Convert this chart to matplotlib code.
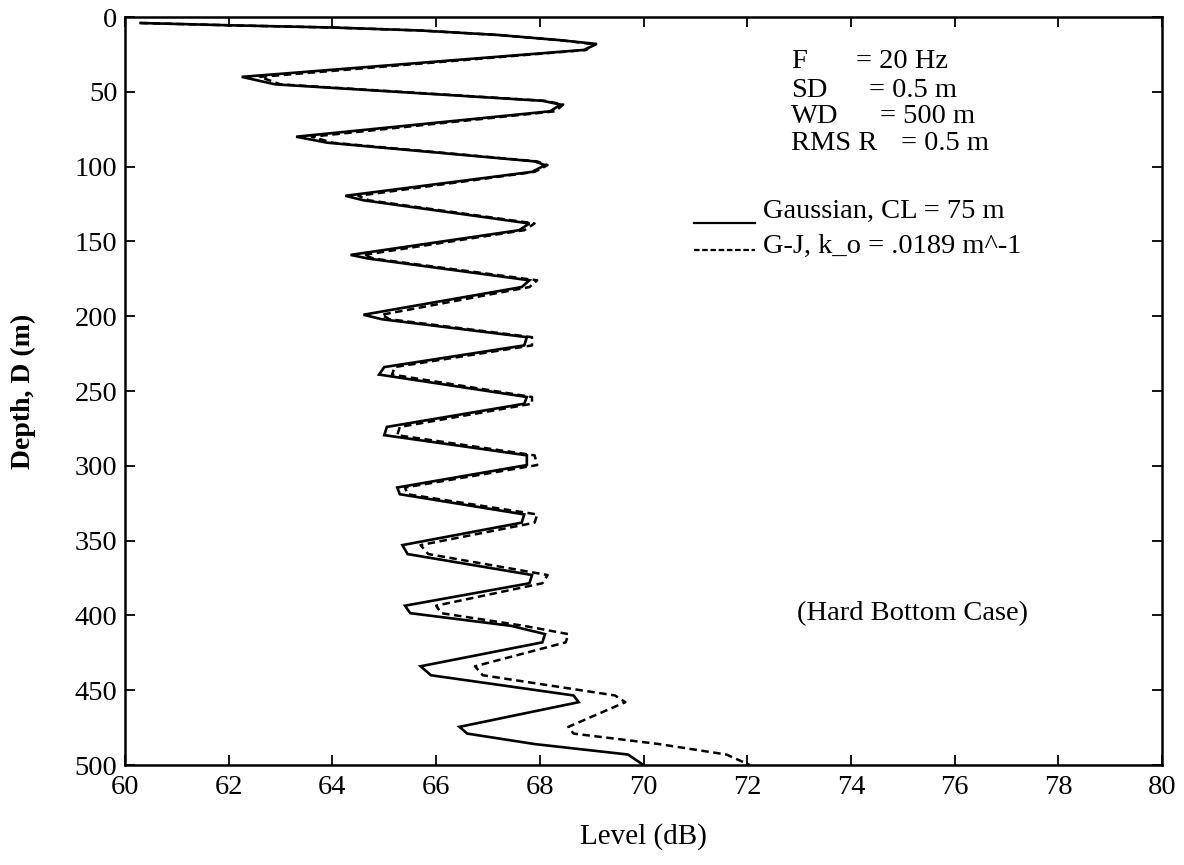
import matplotlib
matplotlib.use("Agg")
import matplotlib.pyplot as plt
from matplotlib.lines import Line2D

plt.rcParams["font.family"] = ["Liberation Serif", "DejaVu Serif"]

# Receiver depth (m) at which the level profiles are sampled
depth = [4, 5.5, 7, 9, 12, 15.5, 18, 22, 40, 45, 56, 58.5, 63, 80, 84, 96.5, 99,
         103.5, 119.5, 122.5, 138, 142.5, 159, 161.5, 176, 180.5, 199, 202, 214,
         219.5, 234, 239, 254, 258.5, 274, 279.5, 293, 299.5, 314.5, 319, 332.5,
         338, 353, 359, 373, 378.5, 393.5, 398.5, 407, 412.5, 418, 434, 440,
         453.5, 458, 474.5, 479, 486, 493, 500]

# Level (dB) for the Gaussian roughness spectrum, CL = 75 m
level_gaussian = [60.3, 62.0, 64.0, 65.7, 67.2, 68.4, 69.1, 68.85, 62.25, 62.9,
                  68.05, 68.4, 68.2, 63.3, 63.9, 67.9, 68.1, 67.85, 64.25, 64.6,
                  67.8, 67.6, 64.35, 64.7, 67.8, 67.65, 64.6, 64.95, 67.75, 67.7,
                  65.0, 64.9, 67.75, 67.7, 65.05, 65.0, 67.75, 67.75, 65.25, 65.3,
                  67.7, 67.65, 65.35, 65.45, 67.85, 67.8, 65.4, 65.5, 67.45, 68.1,
                  68.05, 65.7, 65.9, 68.65, 68.75, 66.45, 66.6, 67.9, 69.7, 70.0]

# Level (dB) for the G-J roughness spectrum, k_o = .0189 1/m
level_gj = [60.3, 62.0, 64.0, 65.7, 67.2, 68.4, 69.0, 68.9, 62.6, 63.0,
            68.1, 68.45, 68.3, 63.6, 64.0, 67.95, 68.15, 67.9, 64.5, 64.7,
            67.9, 67.7, 64.6, 64.8, 67.95, 67.8, 64.95, 65.1, 67.85, 67.85,
            65.2, 65.15, 67.85, 67.85, 65.3, 65.25, 67.9, 67.95, 65.4, 65.45,
            67.95, 67.9, 65.7, 65.85, 68.15, 68.05, 66.0, 66.1, 67.7, 68.55,
            68.5, 66.75, 66.9, 69.45, 69.65, 68.55, 68.65, 70.3, 71.6, 72.05]

x_ticks = list(range(60, 81, 2))
y_ticks = list(range(0, 501, 50))

params = [("F", "= 20 Hz", 74.09, 30.0),
          ("SD", "= 0.5 m", 74.35, 48.9),
          ("WD", "= 500 m", 74.57, 66.7),
          ("RMS R", "= 0.5 m", 74.97, 84.4)]

fig = plt.figure(figsize=(11.84, 8.65), dpi=100)
ax = fig.add_axes([0.1056, 0.1156, 0.8758, 0.8647])

ax.plot(level_gaussian, depth, color="black", lw=1.9, solid_joinstyle="miter")
ax.plot(level_gj, depth, color="black", lw=1.8, dashes=(3.0, 1.8))

ax.set_xlim(60, 80)
ax.set_ylim(500, 0)
ax.set_xticks(x_ticks)
ax.set_yticks(y_ticks)
ax.tick_params(direction="in", length=7, width=1.3, top=True, right=True,
               labelsize=20.5)
ax.tick_params(axis="y", pad=5.5)
ax.tick_params(axis="x", pad=7)
for sp in ax.spines.values():
    sp.set_linewidth(1.8)

ax.set_xlabel("Level (dB)", fontsize=21)
ax.xaxis.set_label_coords(0.5, -0.077)
ax.xaxis.label.set_va("top")
ax.set_ylabel("Depth, D (m)", fontsize=20, fontweight="bold")
ax.yaxis.set_label_coords(-0.086, 0.5)

for name, val, xeq, d in params:
    ax.text(72.85, d, name, fontsize=20.5, ha="left", va="center")
    ax.text(xeq, d, val, fontsize=20.5, ha="left", va="center")

# Legend keys drawn by hand beside their labels
ax.add_line(Line2D([70.98, 72.16], [137.8, 137.8], color="black", lw=1.6))
ax.add_line(Line2D([70.98, 72.16], [156.0, 156.0], color="black", lw=1.6,
                   dashes=(2.5, 1.2)))
ax.text(72.31, 130.0, "Gaussian, CL = 75 m", fontsize=20.5, ha="left", va="center")
ax.text(72.31, 153.3, "G-J, k_o = .0189 m^-1", fontsize=20.5, ha="left", va="center")

ax.text(72.96, 399.0, "(Hard Bottom Case)", fontsize=20.5, ha="left", va="center")

fig.savefig("out.png", dpi=100)
